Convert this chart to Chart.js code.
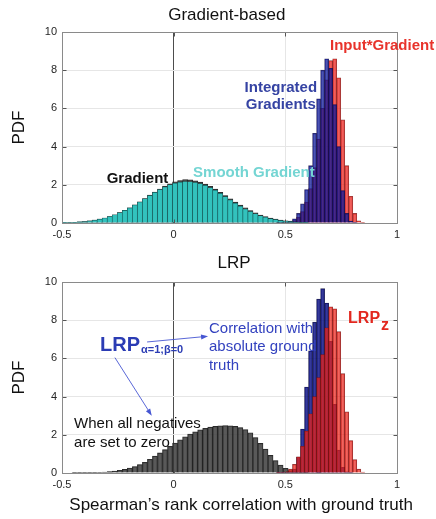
<!DOCTYPE html>
<html>
<head>
<meta charset="utf-8">
<script src="https://cdn.jsdelivr.net/npm/chart.js@4.4.1/dist/chart.umd.min.js"></script>
<style>
    html, body { margin: 0; padding: 0; background: #fff; }
    #wrap { position: relative; width: 436px; height: 519px; }
    canvas { position: absolute; left: 0; }
    #topChart { top: 0; }
    #bottomChart { top: 250px; }
</style>
</head>
<body>
<div id="wrap">
    <canvas id="topChart" width="436" height="250"></canvas>
    <canvas id="bottomChart" width="436" height="269"></canvas>
</div>
<script>
'use strict';

// ---- values ----
const X_TICKS = [-0.5, 0, 0.5, 1];
const Y_TICKS = [0, 2, 4, 6, 8, 10];

// broad distributions use the wider bins, the sharp peaks the narrow ones
const WIDE_BIN_START = -0.5;
const WIDE_BIN_WIDTH = 0.0225;
const NARROW_BIN_START = 0.46;
const NARROW_BIN_WIDTH = 0.018;

// Gradient-based panel
const gradientPdf = [
    0.02, 0.03, 0.04, 0.06, 0.08, 0.11, 0.15, 0.20, 0.26, 0.34,
    0.43, 0.54, 0.66, 0.80, 0.95, 1.11, 1.28, 1.46, 1.62, 1.78,
    1.93, 2.05, 2.15, 2.22, 2.27, 2.26, 2.21, 2.14, 2.04, 1.92,
    1.77, 1.61, 1.44, 1.27, 1.10, 0.94, 0.79, 0.65, 0.53, 0.42,
    0.33, 0.26, 0.20, 0.15, 0.11, 0.08, 0.05, 0.03, 0.02
];
const smoothGradientPdf = [
    0.02, 0.03, 0.04, 0.06, 0.08, 0.11, 0.15, 0.20, 0.26, 0.34,
    0.43, 0.54, 0.66, 0.79, 0.94, 1.10, 1.27, 1.44, 1.60, 1.75,
    1.89, 2.00, 2.08, 2.14, 2.17, 2.16, 2.12, 2.06, 1.97, 1.85,
    1.71, 1.55, 1.38, 1.21, 1.04, 0.88, 0.73, 0.60, 0.48, 0.38,
    0.30, 0.23, 0.18, 0.13, 0.10, 0.07, 0.05, 0.03, 0.02
];
const integratedGradientsPdf = [
    0.01, 0.02, 0.05, 0.10, 0.22, 0.50, 1.00, 1.75, 3.00, 4.70,
    6.50, 8.00, 8.60, 8.10, 6.20, 4.00, 1.70, 0.50, 0.10, 0.02,
    0, 0
];
const inputGradientPdf = [
    0.005, 0.01, 0.03, 0.06, 0.13, 0.30, 0.60, 1.10, 1.80, 2.90,
    4.40, 6.00, 7.50, 8.50, 8.60, 7.60, 5.40, 3.00, 1.40, 0.50,
    0.12, 0.02
];

// LRP panel
const lrpAlphaBetaPdf = [
    0, 0, 0.005, 0.01, 0.01, 0.015, 0.02, 0.03, 0.05, 0.07,
    0.10, 0.14, 0.19, 0.26, 0.34, 0.44, 0.56, 0.72, 0.88, 1.05,
    1.22, 1.40, 1.57, 1.74, 1.90, 2.04, 2.16, 2.26, 2.34, 2.40,
    2.44, 2.47, 2.48, 2.47, 2.44, 2.38, 2.27, 2.10, 1.86, 1.55,
    1.25, 0.92, 0.65, 0.42, 0.25, 0.13, 0.07, 0.03, 0.01
];
const lrpAbsPdf = [
    0.01, 0.02, 0.04, 0.07, 0.20, 0.84, 2.30, 4.50, 6.40, 7.90,
    9.10, 9.65, 8.90, 6.90, 3.60, 1.20, 0.30, 0.06, 0.01, 0,
    0, 0
];
const lrpZPdf = [
    0.01, 0.03, 0.08, 0.20, 0.45, 0.85, 1.40, 2.20, 3.10, 4.00,
    5.00, 6.20, 7.60, 8.70, 8.60, 7.40, 5.20, 3.20, 1.70, 0.70,
    0.20, 0.05
];

// ---- labels drawn on the panels (data coordinates) ----
const TOP_NOTES = [
    { text: 'Gradient-based', x: 0.238, y: 10.87, align: 'center', size: 17, color: '#111' },
    { text: 'Input*Gradient', x: 0.70, y: 9.25, align: 'left', size: 15, bold: true, color: '#e8332b' },
    { text: 'Integrated', x: 0.48, y: 7.10, align: 'center', size: 15, bold: true, color: '#3543a3' },
    { text: 'Gradients', x: 0.48, y: 6.16, align: 'center', size: 15, bold: true, color: '#3543a3' },
    { text: 'Gradient', x: -0.30, y: 2.29, align: 'left', size: 15, bold: true, color: '#111' },
    { text: 'Smooth Gradient', x: 0.087, y: 2.65, align: 'left', size: 15, bold: true, color: '#74d5d3' },
];
const BOTTOM_NOTES = [
    { text: 'LRP', x: 0.27, y: 10.99, align: 'center', size: 17, color: '#111' },
    { text: 'LRP', sub: 'α=1;β=0', x: -0.33, y: 6.69, align: 'left', size: 20, bold: true,
      subSize: 11, subDy: 5, color: '#2b3cb4' },
    { text: 'Correlation with', x: 0.158, y: 7.56, align: 'left', size: 15, color: '#3342bf' },
    { text: 'absolute ground', x: 0.158, y: 6.60, align: 'left', size: 15, color: '#3342bf' },
    { text: 'truth', x: 0.158, y: 5.63, align: 'left', size: 15, color: '#3342bf' },
    { text: 'When all negatives', x: -0.446, y: 2.55, align: 'left', size: 15, color: '#111' },
    { text: 'are set to zero', x: -0.446, y: 1.57, align: 'left', size: 15, color: '#111' },
    { text: 'LRP', sub: 'z', x: 0.781, y: 8.10, align: 'left', size: 16, bold: true,
      subSize: 16, subDy: 7, color: '#e2281f' },
    { text: 'Spearman\u2019s rank correlation with ground truth', x: 0.302, y: -1.69,
      align: 'center', size: 17, color: '#111' },
];
const BOTTOM_ARROWS = [
    { from: [-0.119, 6.86], to: [0.154, 7.16] },
    { from: [-0.263, 6.04], to: [-0.098, 3.0] },
];

const FONT = '"Liberation Sans", Arial, sans-serif';
Chart.defaults.font.family = FONT;
Chart.defaults.color = '#262626';

function binPoints(start, width, values) {
    return values.map((v, i) => ({ x: start + width * (i + 0.5), y: v }));
}

function histogram(label, points, axisId, fill, edge) {
    return {
        label,
        data: points,
        xAxisID: axisId,
        backgroundColor: fill,
        borderColor: edge,
        borderWidth: 0.6,
        barPercentage: 1,
        categoryPercentage: 1,
        grouped: false,
    };
}

function makeScales(xHeight) {
    return {
        x: {
            type: 'linear', min: -0.5, max: 1, offset: false,
            afterBuildTicks: s => { s.ticks = X_TICKS.map(value => ({ value })); },
            afterFit: s => { s.height = xHeight; },
            grid: {
                offset: false, drawTicks: false,
                color: c => (c.tick && c.tick.value === 0 ? '#4d4d4d' : '#e6e6e6'),
            },
            border: { display: false },
            ticks: {
                font: { size: 11 }, padding: 5, maxRotation: 0, color: '#262626',
                callback: v => String(v),
            },
        },
        xn: { type: 'linear', display: false, min: -0.5, max: 1, offset: false },
        y: {
            min: 0, max: 10,
            afterBuildTicks: s => { s.ticks = Y_TICKS.map(value => ({ value })); },
            afterFit: s => { s.width = 62; },
            grid: { drawTicks: false, color: '#e6e6e6' },
            border: { display: false },
            ticks: { font: { size: 11 }, padding: 5, color: '#262626', callback: v => String(v) },
            title: { display: true, text: 'PDF', color: '#111', font: { size: 17 }, padding: { top: 9, bottom: 0 } },
        },
    };
}

// axes box with inward tick marks, the way the original plot looks
const boxPlugin = {
    id: 'axesBox',
    afterDatasetsDraw(chart) {
        const { ctx, scales: { x, y } } = chart;
        const l = Math.round(x.getPixelForValue(-0.5)) + 0.5;
        const r = Math.round(x.getPixelForValue(1)) + 0.5;
        const t = Math.round(y.getPixelForValue(10)) + 0.5;
        const b = Math.round(y.getPixelForValue(0)) + 0.5;
        ctx.save();
        ctx.lineWidth = 1;
        ctx.strokeStyle = '#555';
        ctx.beginPath();
        Y_TICKS.forEach(v => {
            const py = Math.round(y.getPixelForValue(v)) + 0.5;
            ctx.moveTo(l, py); ctx.lineTo(l + 4, py);
            ctx.moveTo(r, py); ctx.lineTo(r - 4, py);
        });
        X_TICKS.forEach(v => {
            const px = Math.round(x.getPixelForValue(v)) + 0.5;
            ctx.moveTo(px, b); ctx.lineTo(px, b - 4);
            ctx.moveTo(px, t); ctx.lineTo(px, t + 4);
        });
        ctx.stroke();
        ctx.strokeStyle = '#8a8a8a';
        ctx.strokeRect(l, t, r - l, b - t);
        ctx.restore();
    }
};

function notesPlugin(notes, arrows) {
    return {
        id: 'notes',
        afterDraw(chart) {
            const { ctx, scales: { x, y } } = chart;
            ctx.save();
            (arrows || []).forEach(a => {
                const x0 = x.getPixelForValue(a.from[0]), y0 = y.getPixelForValue(a.from[1]);
                const x1 = x.getPixelForValue(a.to[0]), y1 = y.getPixelForValue(a.to[1]);
                const ang = Math.atan2(y1 - y0, x1 - x0);
                ctx.strokeStyle = '#4656d2';
                ctx.fillStyle = '#4656d2';
                ctx.lineWidth = 0.9;
                ctx.beginPath();
                ctx.moveTo(x0, y0);
                ctx.lineTo(x1 - 4 * Math.cos(ang), y1 - 4 * Math.sin(ang));
                ctx.stroke();
                ctx.beginPath();
                ctx.moveTo(x1, y1);
                ctx.lineTo(x1 - 7 * Math.cos(ang) + 2.5 * Math.sin(ang), y1 - 7 * Math.sin(ang) - 2.5 * Math.cos(ang));
                ctx.lineTo(x1 - 7 * Math.cos(ang) - 2.5 * Math.sin(ang), y1 - 7 * Math.sin(ang) + 2.5 * Math.cos(ang));
                ctx.closePath();
                ctx.fill();
            });
            notes.forEach(n => {
                const weight = n.bold ? 'bold ' : '';
                const px = x.getPixelForValue(n.x);
                const py = y.getPixelForValue(n.y);
                ctx.font = `${weight}${n.size}px ${FONT}`;
                ctx.fillStyle = n.color;
                ctx.textAlign = n.align;
                ctx.textBaseline = 'middle';
                ctx.fillText(n.text, px, py);
                if (n.sub) {
                    const w = ctx.measureText(n.text).width;
                    ctx.font = `${weight}${n.subSize}px ${FONT}`;
                    ctx.textAlign = 'left';
                    ctx.fillText(n.sub, px + w + 1, py + n.subDy);
                }
            });
            ctx.restore();
        }
    };
}

function buildChart(canvasId, xHeight, datasets, notes, arrows) {
    return new Chart(document.getElementById(canvasId), {
        type: 'bar',
        data: { datasets },
        options: {
            responsive: false,
            animation: false,
            events: [],
            layout: { padding: { left: 0, right: 39, top: 32, bottom: 0 } },
            plugins: {
                legend: { display: false },
                tooltip: { enabled: false },
                title: { display: false },
            },
            scales: makeScales(xHeight),
        },
        plugins: [boxPlugin, notesPlugin(notes, arrows)],
    });
}

// first dataset is drawn on top
buildChart('topChart', 27, [
    histogram('Smooth Gradient', binPoints(WIDE_BIN_START, WIDE_BIN_WIDTH, smoothGradientPdf), 'x',
        'rgba(50,200,195,0.95)', 'rgba(20,80,80,0.9)'),
    histogram('Gradient', binPoints(WIDE_BIN_START, WIDE_BIN_WIDTH, gradientPdf), 'x',
        'rgba(60,60,60,0.85)', 'rgba(15,15,15,0.9)'),
    histogram('Integrated Gradients', binPoints(NARROW_BIN_START, NARROW_BIN_WIDTH, integratedGradientsPdf), 'xn',
        'rgba(10,20,150,0.73)', 'rgba(20,10,60,0.8)'),
    histogram('Input*Gradient', binPoints(NARROW_BIN_START, NARROW_BIN_WIDTH, inputGradientPdf), 'xn',
        'rgba(235,40,35,0.75)', 'rgba(110,20,20,0.8)'),
], TOP_NOTES, []);

buildChart('bottomChart', 46, [
    histogram('LRP z', binPoints(NARROW_BIN_START, NARROW_BIN_WIDTH, lrpZPdf), 'xn',
        'rgba(233,34,26,0.7)', 'rgba(110,15,15,0.8)'),
    histogram('LRP abs', binPoints(NARROW_BIN_START, NARROW_BIN_WIDTH, lrpAbsPdf), 'xn',
        'rgba(10,15,130,0.82)', 'rgba(10,10,50,0.85)'),
    histogram('LRP alpha-beta', binPoints(WIDE_BIN_START, WIDE_BIN_WIDTH, lrpAlphaBetaPdf), 'x',
        'rgba(60,60,60,0.85)', 'rgba(15,15,15,0.9)'),
], BOTTOM_NOTES, BOTTOM_ARROWS);
</script>
</body>
</html>
